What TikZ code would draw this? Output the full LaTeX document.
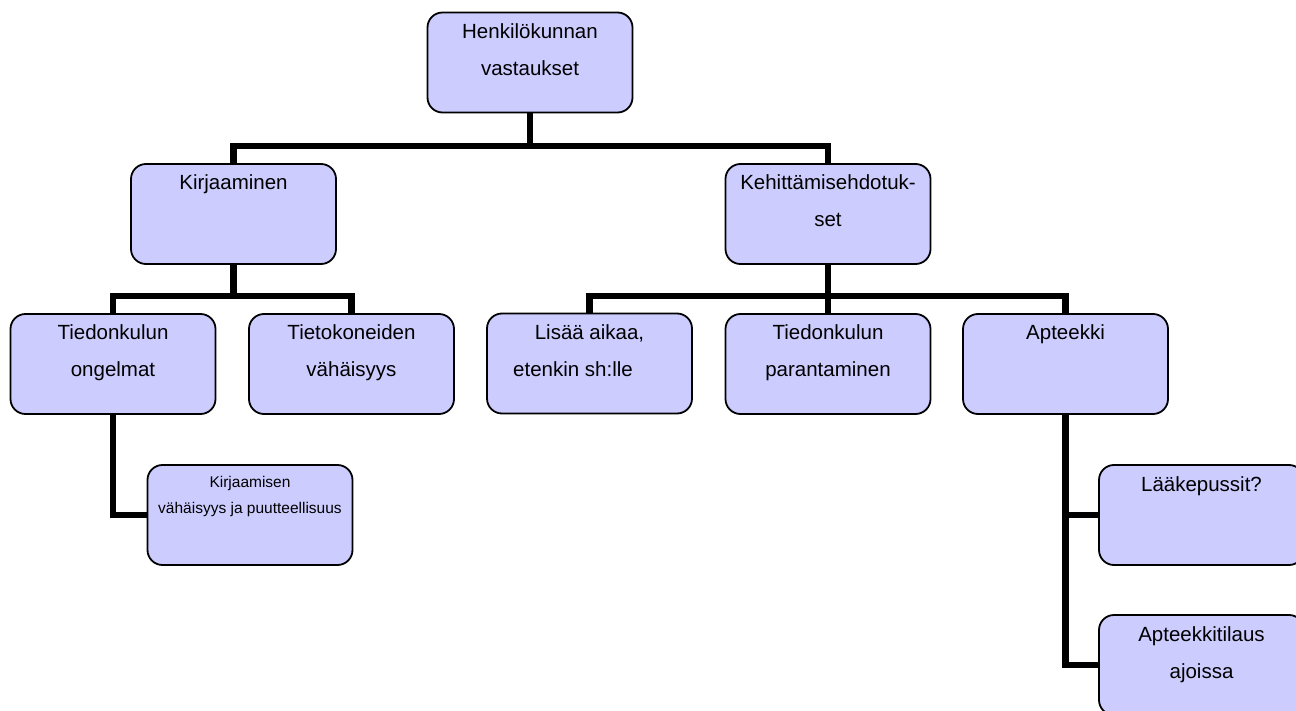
\documentclass[tikz,border=0pt]{standalone}
\usepackage{fontspec}
\setmainfont{Liberation Sans}
\definecolor{boxfill}{HTML}{CCCCFF}

% text of a box: top-aligned, first baseline a fixed distance below the top edge
\newcommand\boxlines[1]{\parbox[c][100pt][t]{205pt}{\centering\fontsize{20.5}{37}\selectfont\rule{0pt}{26pt}#1}}
\newcommand\smallboxlines[1]{\parbox[c][100pt][t]{205pt}{\centering\fontsize{15.5}{26}\selectfont\rule{0pt}{22pt}#1}}

\tikzset{
  orgbox/.style={draw=black, line width=1.8pt, fill=boxfill, rounded corners=15pt,
    inner sep=0pt, minimum width=205pt, minimum height=100pt},
  link/.style={draw=black, line width=6.5pt, line join=miter}
}

\begin{document}
\begin{tikzpicture}[x=1pt, y=-1pt]
\clip (0,0) rectangle (1296,711);

% boxes
\node[orgbox] (top)    at (530,62.5)    {\boxlines{Henkilökunnan\\vastaukset}};
\node[orgbox] (kirj)   at (233.5,214)   {\boxlines{Kirjaaminen}};
\node[orgbox] (keh)    at (828,214)     {\boxlines{Kehittämisehdotuk-\\set}};
\node[orgbox] (tied)   at (113,364)     {\boxlines{Tiedonkulun\\ongelmat}};
\node[orgbox] (tiet)   at (351.5,364)   {\boxlines{Tietokoneiden\\vähäisyys}};
\node[orgbox] (lis)    at (589.5,363.5) {\boxlines{Lisää aikaa,\\etenkin sh:lle\kern33pt}};
\node[orgbox] (par)    at (828,364)     {\boxlines{Tiedonkulun\\parantaminen}};
\node[orgbox] (apt)    at (1065.5,364)  {\boxlines{Apteekki}};
\node[orgbox] (kvp)    at (250,515)     {\smallboxlines{Kirjaamisen\\vähäisyys ja puutteellisuus}};
\node[orgbox] (laak)   at (1201.5,515)  {\boxlines{Lääkepussit?}};
\node[orgbox] (apttil) at (1201.5,665)  {\boxlines{Apteekkitilaus\\ajoissa}};

% junction points of the horizontal bars
\coordinate (bar1) at (530,146);
\coordinate (bar2) at (233.5,296);
\coordinate (bar3) at (828,296);

% connectors
\draw[link] (top.south) -- (bar1);
\draw[link] (kirj.north) |- (bar1) -| (keh.north);

\draw[link] (kirj.south) -- (bar2);
\draw[link] (tied.north) |- (bar2) -| (tiet.north);

\draw[link] (keh.south) -- (par.north);
\draw[link] (lis.north) |- (bar3) -| (apt.north);

\draw[link] (tied.south) |- (kvp.west);
\draw[link] (apt.south) |- (laak.west);
\draw[link] (apt.south) |- (apttil.west);
\end{tikzpicture}
\end{document}
